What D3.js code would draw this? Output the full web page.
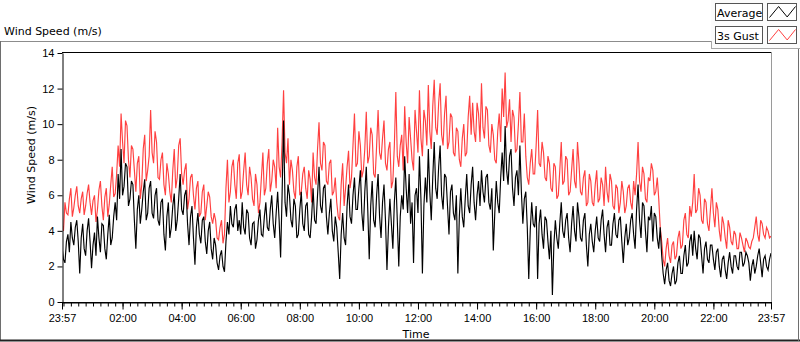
<!DOCTYPE html>
<html>
<head>
<meta charset="utf-8">
<script src="https://cdn.jsdelivr.net/npm/d3@7"></script>
<style>
body { margin: 0; background: #fff; }
text { font-family: "DejaVu Sans", sans-serif; }
.tick text { font-family: "Liberation Sans", Arial, sans-serif; font-size: 11px; fill: #000; }
</style>
</head>
<body>
<svg id="chart"></svg>
<script>
const svgWidth = 800, svgHeight = 342;
const plot = {left: 62, top: 52, right: 772, bottom: 302};

// one sample every 3 minutes, from 23:57 to 23:57 next day
const sampleMinutes = 3;
const tickMinutes = [0, 123, 243, 363, 483, 603, 723, 843, 963, 1083, 1203, 1323, 1440];
const tickLabels = ["23:57", "02:00", "04:00", "06:00", "08:00", "10:00", "12:00",
                    "14:00", "16:00", "18:00", "20:00", "22:00", "23:57"];
const yTicks = [0, 2, 4, 6, 8, 10, 12, 14];

const seriesNames = ["Average", "3s Gust"];
const seriesColors = ["#000000", "#ff4040"];

// one row = 1 hour
const avgSpeed = [
  3.1,2.4,2.2,3.4,3.8,2.8,4.5,3.6,3.2,4.2,4.6,3.4,1.6,3.6,4.4,3.0,2.6,4.0,4.7,3.4,
  1.9,3.2,3.9,2.6,4.8,3.6,2.8,4.4,4.3,3.0,2.4,3.8,4.9,3.2,3.6,4.8,5.6,4.6,7.2,5.8,
  8.6,6.0,6.5,7.8,7.6,5.4,5.8,6.8,6.6,4.6,3.0,5.2,6.0,4.4,5.2,6.2,6.9,4.6,5.0,6.4,
  6.8,5.0,4.7,6.0,6.4,4.6,4.3,5.6,5.8,3.8,2.9,4.8,5.6,3.6,4.2,5.4,6.1,4.0,4.6,5.8,
  7.2,5.2,4.9,6.0,6.3,4.4,3.2,4.8,5.4,3.6,2.1,4.2,5.0,3.8,3.3,4.6,4.8,3.4,2.7,4.0,
  4.5,3.0,2.4,3.6,3.2,2.2,1.8,2.6,2.9,2.0,1.7,3.4,4.5,3.8,5.4,4.4,4.2,5.2,5.5,4.0,
  4.6,3.8,5.6,4.2,3.8,5.2,5.0,3.6,3.2,4.4,4.5,3.0,3.5,4.6,5.2,3.8,3.7,4.8,5.6,4.2,
  4.0,5.2,6.0,4.4,3.6,5.0,6.2,4.6,2.5,6.0,10.2,5.6,4.8,6.6,6.0,4.6,4.2,5.8,5.4,3.6,
  3.8,5.2,6.2,4.4,4.0,5.4,5.6,3.8,3.6,4.8,6.4,4.6,4.4,6.0,7.6,5.4,5.0,6.4,6.6,4.8,
  3.8,5.0,5.8,4.0,3.4,4.8,4.2,2.8,1.3,3.8,5.0,3.6,3.2,5.4,6.6,4.8,4.4,6.0,7.0,5.2,
  5.2,6.4,7.4,5.0,4.0,6.2,7.6,5.2,2.4,5.4,6.8,4.6,4.2,6.0,7.2,4.8,3.6,5.6,6.6,4.6,
  1.8,4.2,5.8,4.4,3.0,5.6,7.0,4.6,2.0,4.8,6.0,5.2,8.2,6.4,5.0,7.2,4.4,5.6,2.2,6.0,
  6.4,5.0,8.2,5.8,1.6,5.4,7.0,5.6,8.6,6.2,4.6,7.0,9.0,6.4,5.8,7.6,8.8,6.0,5.2,7.2,
  7.0,5.4,3.8,6.2,6.6,5.0,4.6,6.0,1.6,4.8,6.4,4.8,4.2,5.8,7.2,5.4,5.0,6.6,7.6,5.6,
  4.6,6.0,6.8,5.4,7.4,6.2,5.6,7.0,7.2,5.6,5.2,6.4,2.9,5.0,6.8,5.6,5.0,7.0,8.4,6.8,
  9.9,7.4,6.6,8.2,8.6,6.4,5.4,7.0,7.4,6.0,8.8,6.2,4.4,5.8,6.2,4.2,1.3,4.0,5.6,4.4,
  4.2,5.4,1.3,4.4,5.2,3.8,3.0,4.8,4.6,3.4,2.4,4.0,0.4,3.2,4.6,3.6,3.0,4.4,5.6,4.0,
  3.6,4.6,5.0,3.6,2.8,4.4,5.4,4.0,3.4,5.6,4.8,3.6,3.4,4.6,5.0,3.2,2.0,3.8,4.4,3.4,
  2.8,4.0,4.8,3.6,3.4,4.6,5.2,3.8,2.8,4.2,4.6,3.2,3.2,4.4,5.0,3.8,3.6,4.6,4.8,3.4,
  2.2,3.6,4.4,3.2,3.6,4.6,5.0,3.8,3.0,5.2,6.6,4.6,3.6,5.6,5.4,4.0,2.8,4.8,4.6,5.4,
  3.4,5.0,4.8,3.6,3.0,4.2,2.6,1.6,1.0,1.8,2.2,1.2,0.9,1.6,2.0,1.0,1.2,2.2,2.6,1.6,
  1.6,2.6,3.2,2.0,2.2,3.4,3.8,2.6,4.0,3.0,2.4,3.8,3.6,2.6,1.6,3.0,3.4,2.4,2.2,3.2,
  3.2,2.4,1.8,2.8,3.0,2.0,1.4,2.4,2.6,1.8,1.3,2.2,2.8,2.0,1.6,2.6,2.6,2.0,1.8,2.8,
  2.8,2.0,2.2,2.8,2.6,2.2,1.2,2.0,2.4,1.6,2.0,2.6,3.0,2.2,1.4,2.4,2.6,2.0,1.8,2.4,
  2.75
];

const gustSpeed = [
  4.4,4.0,5.6,5.0,4.9,5.8,6.4,4.8,5.3,6.0,6.5,5.4,5.0,5.8,6.2,4.9,5.4,6.1,6.6,5.6,
  4.9,5.7,6.0,4.5,5.2,6.3,6.8,5.4,4.6,5.9,6.4,4.8,5.5,6.6,7.6,5.9,6.1,7.2,8.8,7.6,
  10.6,9.0,7.8,10.2,9.9,8.0,7.0,8.8,8.6,7.4,6.2,7.8,8.2,5.8,6.6,8.6,9.4,6.8,7.4,8.2,
  10.8,8.4,7.8,9.6,9.0,7.0,6.9,8.0,8.4,6.6,6.0,7.8,7.2,6.2,5.6,7.4,8.6,6.4,7.0,8.8,
  9.2,7.2,6.6,7.4,7.8,5.2,5.8,7.0,7.2,6.0,5.2,6.4,6.8,4.8,5.0,6.2,6.6,4.6,5.4,6.2,
  5.9,4.8,4.4,5.0,4.6,3.6,3.5,4.2,4.6,3.3,3.8,6.4,8.0,5.6,6.2,7.6,8.0,6.6,5.8,7.8,
  8.3,5.8,6.2,7.4,8.4,6.6,6.0,7.6,7.0,5.8,5.4,7.2,6.6,5.0,5.6,7.0,8.4,6.0,6.4,7.8,
  8.6,6.2,6.8,8.0,7.6,6.4,9.8,7.6,7.0,9.0,11.9,8.4,7.8,9.2,6.6,8.0,7.4,6.2,5.8,7.6,
  8.2,6.0,6.2,7.2,7.6,6.4,5.8,7.4,6.9,5.6,8.4,7.0,6.6,8.6,10.1,7.8,7.4,9.0,8.8,6.8,
  6.6,7.8,8.0,6.0,6.2,7.0,5.6,4.8,4.6,6.6,7.8,5.4,6.4,7.6,8.5,6.4,7.0,8.8,10.6,7.6,
  7.8,9.6,8.8,7.0,7.4,8.6,10.7,7.8,8.2,9.8,9.4,7.2,7.0,8.8,10.8,8.4,8.0,9.2,10.2,7.8,
  7.4,8.6,9.0,6.4,6.8,8.8,11.8,8.2,7.6,8.8,9.4,7.4,11.0,9.0,7.8,10.4,9.2,8.0,7.4,10.8,
  9.6,8.4,11.9,9.2,8.2,10.8,10.2,8.8,12.2,9.6,8.6,11.0,12.5,9.8,9.4,11.2,12.3,9.4,8.8,10.6,
  11.6,8.6,9.0,10.6,10.4,8.4,8.2,9.8,9.6,8.0,7.6,9.2,10.0,8.2,8.4,10.4,11.6,9.4,11.2,9.6,
  9.0,11.2,10.6,9.0,12.3,9.8,9.2,11.0,10.8,8.8,8.4,10.0,9.4,8.0,7.8,9.6,10.6,9.0,12.0,10.4,
  12.9,9.8,10.2,11.4,9.0,10.8,10.4,8.4,8.6,10.0,11.8,9.0,9.0,10.6,8.2,7.0,6.6,7.8,8.6,7.2,
  7.2,8.8,10.8,7.8,7.6,9.0,8.4,7.0,6.8,8.2,7.8,6.4,6.2,7.8,7.6,5.8,6.0,7.4,9.0,6.6,
  6.8,8.2,8.0,6.0,6.2,7.4,8.6,6.8,6.4,9.0,7.8,6.2,6.0,7.0,7.4,5.4,5.6,7.2,6.8,5.6,
  5.4,6.6,7.4,5.6,5.8,7.0,6.6,5.4,7.6,6.2,5.6,7.2,6.8,5.4,5.2,6.6,6.4,5.0,5.6,6.8,
  6.2,5.0,5.4,6.4,6.6,5.6,5.2,6.8,6.0,7.2,9.0,6.8,6.2,7.6,7.2,5.8,5.6,7.0,6.8,7.8,
  7.4,6.0,6.2,7.0,5.8,4.2,3.4,2.4,2.0,3.0,3.6,2.6,2.2,3.2,3.4,2.4,2.6,3.6,4.0,3.0,
  3.2,4.6,5.0,3.8,3.6,5.4,4.8,5.6,7.2,5.0,5.2,6.4,6.0,4.6,4.4,5.8,5.6,4.4,4.0,5.2,
  6.4,5.0,4.2,5.6,5.2,4.0,3.4,4.8,4.4,3.6,3.0,4.6,4.2,3.4,3.2,4.0,3.8,3.0,3.0,3.9,
  3.6,3.2,2.8,3.6,3.4,3.1,3.0,3.4,3.6,4.2,4.8,3.8,3.4,4.6,4.4,3.8,3.6,4.2,4.0,3.6,
  3.7
];

// legend glyph shape (unit box), just a little zigzag
const glyphShape = [[0, 1], [0.35, 0], [0.68, 0.95], [1, 0]];

const svg = d3.select("#chart")
    .attr("width", svgWidth)
    .attr("height", svgHeight);

var xScale = d3.scaleLinear().domain([0, 1440]).range([plot.left, plot.right - 1]);
var yScale = d3.scaleLinear().domain([0, 14]).range([plot.bottom, plot.top + 1]);

// outer frame
svg.append("line").attr("x1", 0).attr("x2", 711).attr("y1", 41.5).attr("y2", 41.5).attr("stroke", "#8c8c8c");
svg.append("line").attr("x1", 0.5).attr("x2", 0.5).attr("y1", 41).attr("y2", 341).attr("stroke", "#6e6e6e");
svg.append("line").attr("x1", 0).attr("x2", 800).attr("y1", 340.5).attr("y2", 340.5).attr("stroke", "#222").attr("stroke-width", 2);
svg.append("line").attr("x1", 798.5).attr("x2", 798.5).attr("y1", 48).attr("y2", 341).attr("stroke", "#6e6e6e");

svg.append("text")
    .attr("x", 4).attr("y", 35)
    .attr("font-size", 11)
    .text("Wind Speed (m/s)");

// plot background and frame
svg.append("rect")
    .attr("x", plot.left).attr("y", plot.top)
    .attr("width", plot.right - plot.left).attr("height", plot.bottom - plot.top)
    .attr("fill", "#fff");

svg.append("clipPath").attr("id", "clip")
    .append("rect")
    .attr("x", plot.left + 1).attr("y", plot.top + 1)
    .attr("width", plot.right - plot.left - 1).attr("height", plot.bottom - plot.top - 1);

var valueline = d3.line()
    .x(function(d, i) { return xScale(i * sampleMinutes); })
    .y(function(d) { return yScale(d); });

const lines = svg.append("g").attr("clip-path", "url(#clip)");
lines.append("path")
    .datum(gustSpeed)
    .attr("d", valueline)
    .attr("fill", "none")
    .attr("stroke", seriesColors[1])
    .attr("stroke-width", 1.15);
lines.append("path")
    .datum(avgSpeed)
    .attr("d", valueline)
    .attr("fill", "none")
    .attr("stroke", seriesColors[0])
    .attr("stroke-width", 1.15);

svg.append("line").attr("x1", plot.left).attr("x2", plot.right).attr("y1", plot.top + 0.5).attr("y2", plot.top + 0.5).attr("stroke", "#000");
svg.append("line").attr("x1", plot.right - 0.5).attr("x2", plot.right - 0.5).attr("y1", plot.top).attr("y2", plot.bottom).attr("stroke", "#9a9a9a");

// y axis
var yAxis = d3.axisLeft(yScale).tickValues(yTicks).tickSize(5).tickPadding(3).tickSizeOuter(0);
svg.append("g")
    .attr("transform", "translate(" + (plot.left + 0.5) + ",0)")
    .call(yAxis)
    .call(g => g.selectAll("line, path").attr("stroke", "#000"));

// x axis: minor ticks every 15 min, majors with labels
var minorTicks = d3.range(3, 1440, 15);
svg.append("g")
    .attr("transform", "translate(0," + (plot.bottom + 0.5) + ")")
    .call(d3.axisBottom(xScale).tickValues(minorTicks).tickSize(4).tickFormat(""))
    .call(g => g.selectAll("line, path").attr("stroke", "#000"));
var xAxis = d3.axisBottom(xScale)
    .tickValues(tickMinutes)
    .tickFormat(function(d, i) { return tickLabels[i]; })
    .tickSize(7).tickPadding(5).tickSizeOuter(0);
svg.append("g")
    .attr("transform", "translate(0," + (plot.bottom + 0.5) + ")")
    .call(xAxis)
    .call(g => g.selectAll("line, path").attr("stroke", "#000"))
    .call(g => g.select(".domain").remove());
svg.append("line").attr("x1", plot.left).attr("x2", plot.right).attr("y1", plot.bottom + 0.5).attr("y2", plot.bottom + 0.5).attr("stroke", "#000");

// axis titles
svg.append("text")
    .attr("transform", "translate(35,155) rotate(-90)")
    .attr("text-anchor", "middle")
    .attr("font-size", 11)
    .text("Wind Speed (m/s)");
svg.append("text")
    .attr("x", 416).attr("y", 338)
    .attr("text-anchor", "middle")
    .attr("font-size", 11)
    .text("Time");

// legend
const legend = svg.append("g");
legend.append("rect").attr("x", 711).attr("y", 0).attr("width", 89).attr("height", 48).attr("fill", "#fbfbfb");
legend.append("line").attr("x1", 711.5).attr("x2", 711.5).attr("y1", 41).attr("y2", 48).attr("stroke", "#a8a8a8");
legend.append("line").attr("x1", 711).attr("x2", 800).attr("y1", 48.5).attr("y2", 48.5).attr("stroke", "#a8a8a8");

var glyphLine = d3.line();
seriesNames.forEach(function(name, i) {
    var top = 3.5 + i * 23;
    legend.append("rect")
        .attr("x", 715.5).attr("y", top).attr("width", 47).attr("height", 17)
        .attr("fill", "#fff").attr("stroke", "#555");
    legend.append("text")
        .attr("x", 717).attr("y", top + 13)
        .attr("font-size", 11)
        .text(name);
    legend.append("rect")
        .attr("x", 767.5).attr("y", top).attr("width", 29).attr("height", 17)
        .attr("fill", "#fff").attr("stroke", "#555");
    legend.append("path")
        .attr("d", glyphLine(glyphShape.map(p => [769.5 + p[0] * 26, top + 3 + p[1] * 11])))
        .attr("fill", "none")
        .attr("stroke", seriesColors[i]);
});
</script>
</body>
</html>
